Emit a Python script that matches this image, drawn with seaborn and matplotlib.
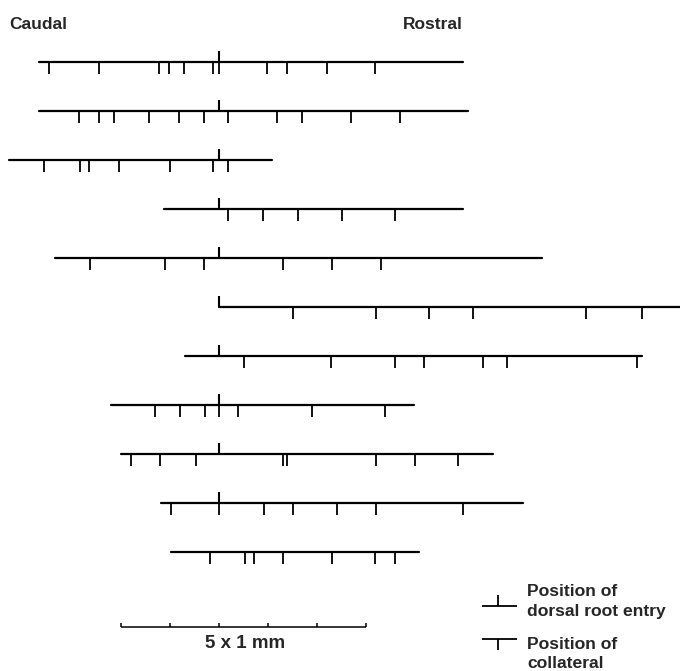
import numpy as np
import pandas as pd
import seaborn as sns
import matplotlib.pyplot as plt

# axon extent along the cord, mm relative to the dorsal root entry (caudal < 0 < rostral)
axon_start = [-3.67, -3.67, -4.29, -1.12, -3.35, 0.00, -0.69, -2.20, -2.00, -1.18, -0.98]
axon_end = [4.98, 5.08, 1.08, 4.98, 6.59, 9.60, 8.63, 3.98, 5.59, 6.20, 4.08]

# dorsal root entry shown on each axon (last one has none)
has_root = [1, 1, 1, 1, 1, 1, 1, 1, 1, 1, 0]

# collateral positions, mm
collaterals = [
    [-3.47, -2.45, -1.22, -1.02, -0.71, -0.12, 0.00, 0.98, 1.39, 2.20, 3.18],
    [-2.86, -2.45, -2.14, -1.43, -0.82, -0.31, 0.18, 1.18, 1.69, 2.69, 3.69],
    [-3.57, -2.84, -2.65, -2.04, -1.00, -0.12, 0.18],
    [0.18, 0.90, 1.61, 2.51, 3.59],
    [-2.63, -1.10, -0.31, 1.31, 2.31, 3.31],
    [1.51, 3.20, 4.29, 5.18, 7.49, 8.63],
    [0.51, 2.29, 3.59, 4.18, 5.39, 5.88, 8.53],
    [-1.31, -0.80, -0.29, 0.00, 0.39, 1.90, 3.39],
    [-1.80, -1.20, -0.47, 1.31, 1.39, 3.20, 4.00, 4.88],
    [-0.98, 0.00, 0.92, 1.51, 2.41, 3.20, 4.98],
    [-0.18, 0.53, 0.71, 1.31, 2.31, 3.18, 3.59],
]

scale_mm = [-2.0, -1.0, 0.0, 1.0, 2.0, 3.0]

PX = 49.0  # pixels per mm / per row
X0, Y0 = 219, 62  # pixel position of root entry on first axon


def px(x, y):
    # page pixel -> data coords (for text and legend placement)
    return (x - X0) / PX, (y - Y0) / PX


sns.set_style("white")
plt.rcParams['font.family'] = ['Liberation Sans', 'DejaVu Sans']

fig = plt.figure(figsize=(6.8, 6.71), dpi=100)
ax = fig.add_axes([0, 0, 1, 1])

rows = []
for i, (a, b) in enumerate(zip(axon_start, axon_end)):
    rows.append({'axon': i, 'x': a, 'y': i})
    rows.append({'axon': i, 'x': b, 'y': i})
df = pd.DataFrame(rows)
sns.lineplot(data=df, x='x', y='y', units='axon', estimator=None, sort=False,
             color='black', linewidth=1.6, ax=ax, legend=False)

tick_len = 12 / PX
for i, cols in enumerate(collaterals):
    ax.vlines(cols, i, i + tick_len, color='black', linewidth=1.3)
    if has_root[i]:
        ax.vlines(0.0, i - 0.23, i, color='black', linewidth=1.5)

# scale bar
ybar = px(0, 627)[1]
ax.hlines(ybar, scale_mm[0], scale_mm[-1], color='black', linewidth=1.1)
ax.vlines(scale_mm, ybar - 0.08, ybar, color='black', linewidth=1.1)
ax.text(*px(245, 648), '5 x 1 mm', ha='center', va='baseline',
        fontsize=13.5, fontweight='bold')

# legend
lx0, y_root = px(482, 606)
lx1, y_col = px(517, 639)
lmid = px(498, 0)[0]
ax.hlines(y_root, lx0, lx1, color='black', linewidth=1.3)
ax.vlines(lmid, y_root - 11 / PX, y_root, color='black', linewidth=1.3)
ax.hlines(y_col, lx0, lx1, color='black', linewidth=1.3)
ax.vlines(lmid, y_col, y_col + 11 / PX, color='black', linewidth=1.3)

legend_lines = [('Position of', 596), ('dorsal root entry', 616),
                ('Position of', 649), ('collateral', 668)]
for txt, yb in legend_lines:
    ax.text(*px(527, yb), txt, ha='left', va='baseline', fontsize=12.6, fontweight='bold')

ax.text(*px(9, 29), 'Caudal', ha='left', va='baseline', fontsize=12.5, fontweight='bold')
ax.text(*px(403, 29), 'Rostral', ha='left', va='baseline', fontsize=12.5, fontweight='bold')

ax.set_xlim(px(0, 0)[0], px(680, 0)[0])
ax.set_ylim(px(0, 671)[1], px(0, 0)[1])
ax.axis('off')

fig.savefig('out.png', dpi=100)
